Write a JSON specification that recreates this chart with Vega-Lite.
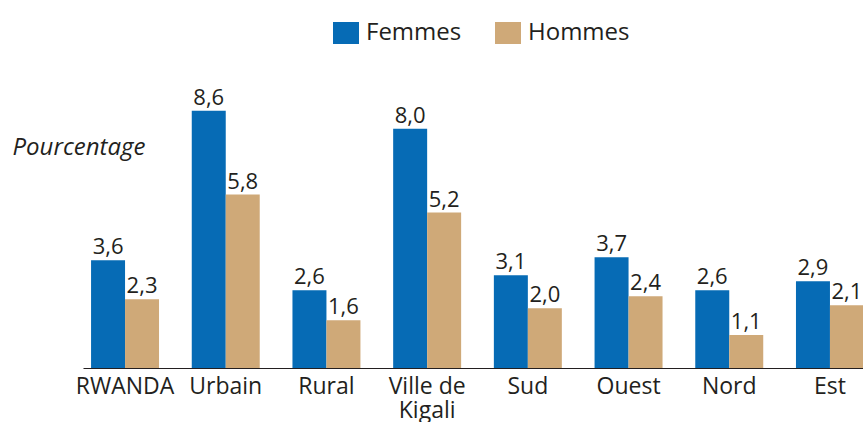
{
  "$schema": "https://vega.github.io/schema/vega-lite/v6.json",
  "width": 780,
  "height": 299,
  "autosize": {"type": "none"},
  "padding": {"left": 83, "top": 69, "right": 0, "bottom": 54},
  "background": "white",
  "data": {
    "values": [
      {"Zone": "RWANDA", "Sexe": "Femmes", "Valeur": 3.6},
      {"Zone": "RWANDA", "Sexe": "Hommes", "Valeur": 2.3},
      {"Zone": "Urbain", "Sexe": "Femmes", "Valeur": 8.6},
      {"Zone": "Urbain", "Sexe": "Hommes", "Valeur": 5.8},
      {"Zone": "Rural", "Sexe": "Femmes", "Valeur": 2.6},
      {"Zone": "Rural", "Sexe": "Hommes", "Valeur": 1.6},
      {"Zone": "Ville de Kigali", "Sexe": "Femmes", "Valeur": 8.0},
      {"Zone": "Ville de Kigali", "Sexe": "Hommes", "Valeur": 5.2},
      {"Zone": "Sud", "Sexe": "Femmes", "Valeur": 3.1},
      {"Zone": "Sud", "Sexe": "Hommes", "Valeur": 2.0},
      {"Zone": "Ouest", "Sexe": "Femmes", "Valeur": 3.7},
      {"Zone": "Ouest", "Sexe": "Hommes", "Valeur": 2.4},
      {"Zone": "Nord", "Sexe": "Femmes", "Valeur": 2.6},
      {"Zone": "Nord", "Sexe": "Hommes", "Valeur": 1.1},
      {"Zone": "Est", "Sexe": "Femmes", "Valeur": 2.9},
      {"Zone": "Est", "Sexe": "Hommes", "Valeur": 2.1}
    ]
  },
  "encoding": {
    "x": {
      "field": "Zone",
      "type": "nominal",
      "sort": null,
      "scale": {"range": [0, 789], "paddingInner": 0.325, "paddingOuter": 0.08},
      "axis": {
        "title": null,
        "labelAngle": 0,
        "ticks": false,
        "tickSize": 0,
        "labelPadding": 7,
        "labelFont": "Open Sans",
        "labelFontSize": 23,
        "labelColor": "#231f20",
        "labelLineHeight": 24,
        "labelBaseline": "top",
        "labelExpr": "datum.label == 'Ville de Kigali' ? ['Ville de', 'Kigali'] : datum.label",
        "domainColor": "#231f20",
        "domainWidth": 1.2
      }
    },
    "xOffset": {"field": "Sexe", "type": "nominal", "sort": ["Femmes", "Hommes"], "scale": {"paddingInner": 0}},
    "y": {
      "field": "Valeur",
      "type": "quantitative",
      "scale": {"domain": [0, 10], "nice": false},
      "axis": {
        "title": "Pourcentage",
        "labels": false,
        "ticks": false,
        "domain": false,
        "grid": false,
        "titleAngle": 0,
        "titleX": -71,
        "titleY": 85,
        "titleAlign": "left",
        "titleBaseline": "alphabetic",
        "titleFont": "Open Sans",
        "titleFontSize": 24,
        "titleFontStyle": "italic",
        "titleFontWeight": "normal",
        "titleColor": "#231f20"
      }
    }
  },
  "layer": [
    {
      "mark": {"type": "bar"},
      "encoding": {
        "color": {
          "field": "Sexe",
          "type": "nominal",
          "sort": ["Femmes", "Hommes"],
          "scale": {"domain": ["Femmes", "Hommes"], "range": ["#066bb5", "#cfa978"]},
          "legend": {
            "title": null,
            "orient": "none",
            "direction": "horizontal",
            "legendX": 251,
            "legendY": -48,
            "symbolType": "M-1.18,-1L1.18,-1L1.18,1L-1.18,1Z",
            "symbolSize": 484,
            "symbolStrokeWidth": 0,
            "symbolOpacity": 1,
            "labelFont": "Open Sans",
            "labelFontSize": 24,
            "labelColor": "#231f20",
            "labelOffset": 8,
            "columnPadding": 33
          }
        }
      }
    },
    {
      "mark": {"type": "text", "baseline": "alphabetic", "dy": -6, "font": "Open Sans", "fontSize": 22, "color": "#231f20"},
      "encoding": {
        "text": {"field": "Valeur", "type": "quantitative", "format": ".1f"}
      }
    }
  ],
  "config": {
    "view": {"stroke": null},
    "locale": {
      "number": {"decimal": ",", "thousands": " ", "grouping": [3], "currency": ["", " €"]}
    }
  }
}
